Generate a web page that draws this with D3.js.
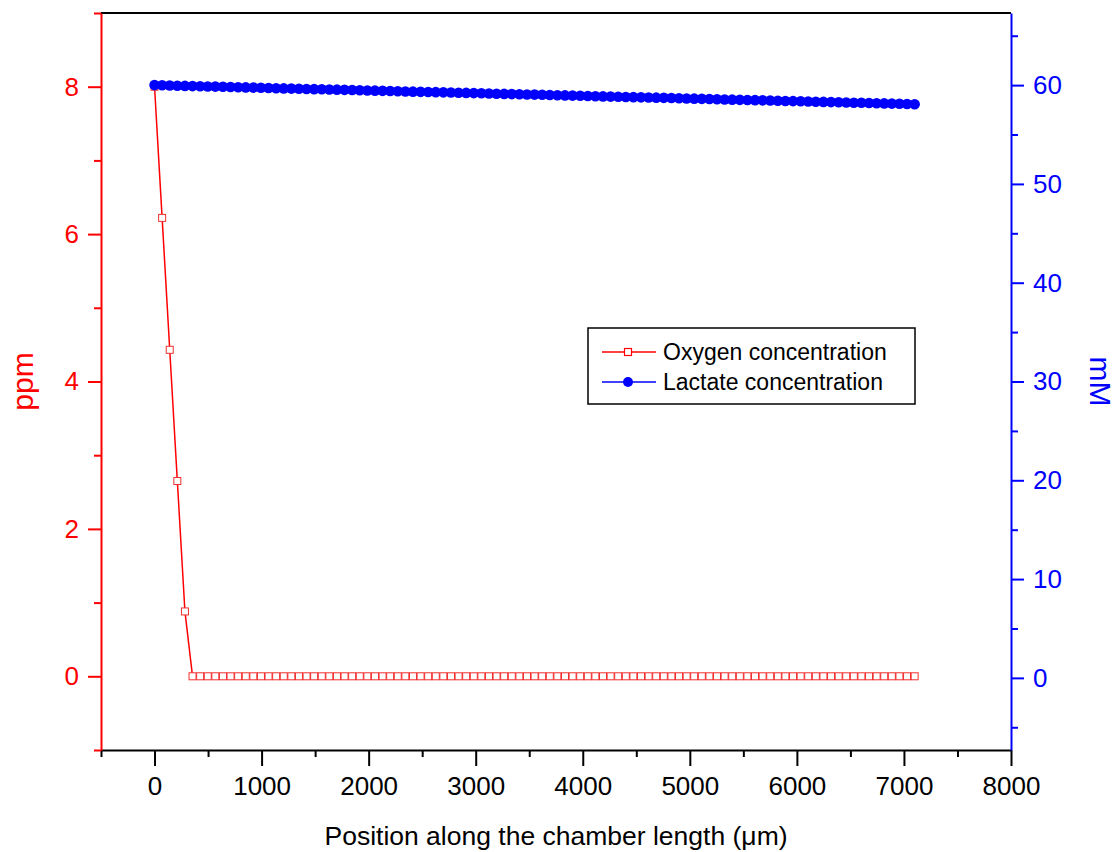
<!DOCTYPE html>
<html lang="en">
<head>
<meta charset="UTF-8">
<title>Oxygen and lactate along chamber</title>
<script src="https://d3js.org/d3.v7.min.js"></script>
<style>
    body { margin: 0; background: #fff; }
    svg { display: block; }
    text { font-family: "Liberation Sans", Arial, sans-serif; }
</style>
</head>
<body>
<script>
// position along the chamber (um)
const positions = [0,71,142,213,284,355,426,497,568,639,710,781,852,923,994,1065,1136,1207,1278,1349,
    1420,1491,1562,1633,1704,1775,1846,1917,1988,2059,2130,2201,2272,2343,2414,2485,2556,2627,2698,2769,
    2840,2911,2982,3053,3124,3195,3266,3337,3408,3479,3550,3621,3692,3763,3834,3905,3976,4047,4118,4189,
    4260,4331,4402,4473,4544,4615,4686,4757,4828,4899,4970,5041,5112,5183,5254,5325,5396,5467,5538,5609,
    5680,5751,5822,5893,5964,6035,6106,6177,6248,6319,6390,6461,6532,6603,6674,6745,6816,6887,6958,7029,7100]

// oxygen (ppm)
const oxygen = [8,6.22,4.43,2.65,0.88,0,0,0,0,0,0,0,0,0,0,0,0,0,0,0,
    0,0,0,0,0,0,0,0,0,0,0,0,0,0,0,0,0,0,0,0,
    0,0,0,0,0,0,0,0,0,0,0,0,0,0,0,0,0,0,0,0,
    0,0,0,0,0,0,0,0,0,0,0,0,0,0,0,0,0,0,0,0,
    0,0,0,0,0,0,0,0,0,0,0,0,0,0,0,0,0,0,0,0,0]

// lactate (mM)
const lactate = [60.00,59.98,59.96,59.94,59.92,59.90,59.88,59.86,59.85,59.83,59.81,59.79,59.77,59.75,59.73,59.71,59.69,59.67,59.65,59.63,
    59.61,59.59,59.58,59.56,59.54,59.52,59.50,59.48,59.46,59.44,59.42,59.40,59.38,59.36,59.34,59.32,59.31,59.29,59.27,59.25,
    59.23,59.21,59.19,59.17,59.15,59.13,59.11,59.09,59.07,59.05,59.04,59.02,59.00,58.98,58.96,58.94,58.92,58.90,58.88,58.86,
    58.84,58.82,58.80,58.78,58.76,58.75,58.73,58.71,58.69,58.67,58.65,58.63,58.61,58.59,58.57,58.55,58.53,58.51,58.49,58.48,
    58.46,58.44,58.42,58.40,58.38,58.36,58.34,58.32,58.30,58.28,58.26,58.24,58.22,58.21,58.19,58.17,58.15,58.13,58.11,58.09,58.07]

const xTicks = [0,1000,2000,3000,4000,5000,6000,7000,8000]
const xMinor = [-500,500,1500,2500,3500,4500,5500,6500,7500]
const ppmTicks = [0,2,4,6,8]
const ppmMinor = [-1,1,3,5,7,9]
const mMTicks = [0,10,20,30,40,50,60]
const mMMinor = [-5,5,15,25,35,45,55,65]

const width = 1117
const height = 852
const mLeft = 101, mRight = 1011, mTop = 13, mBottom = 750

const svg = d3.select('body').append('svg')
    .attr('width', width)
    .attr('height', height)

const x = d3.scaleLinear().domain([-500, 8000]).range([mLeft, mRight])
const yL = d3.scaleLinear().domain([-1, 9]).range([mBottom, mTop])
const yR = d3.scaleLinear().domain([-7.3, 67.3]).range([mBottom, mTop])

// frame top
svg.append('line')
    .attr('x1', mLeft).attr('x2', mRight).attr('y1', mTop).attr('y2', mTop)
    .attr('stroke', 'black').attr('stroke-width', 2)

// minor ticks drawn as axes without labels
function minorAxis(axis, vals, g, color) {
    g.call(axis.tickValues(vals).tickSize(7).tickFormat(''))
    g.select('.domain').remove()
    g.selectAll('line').attr('stroke', color).attr('stroke-width', 2)
}

// x axis
const gx = svg.append('g').attr('transform', `translate(0,${mBottom})`)
minorAxis(d3.axisBottom(x), xMinor, gx.append('g'), 'black')
const gxMain = gx.append('g')
    .call(d3.axisBottom(x).tickValues(xTicks).tickFormat(d3.format('d'))
        .tickSize(16).tickPadding(11).tickSizeOuter(0))
gxMain.select('.domain').attr('stroke', 'black').attr('stroke-width', 2)
gxMain.selectAll('line').attr('stroke-width', 2)
gxMain.selectAll('text').attr('font-size', 26).attr('fill', 'black')
    .attr('font-family', '"Liberation Sans", Arial, sans-serif')

// left axis (ppm)
const gl = svg.append('g').attr('transform', `translate(${mLeft},0)`)
minorAxis(d3.axisLeft(yL), ppmMinor, gl.append('g'), 'red')
const glMain = gl.append('g')
    .call(d3.axisLeft(yL).tickValues(ppmTicks).tickSize(13).tickPadding(9).tickSizeOuter(0))
glMain.select('.domain').attr('stroke', 'red').attr('stroke-width', 2)
glMain.selectAll('line').attr('stroke', 'red').attr('stroke-width', 2)
glMain.selectAll('text').attr('font-size', 26).attr('fill', 'red')
    .attr('font-family', '"Liberation Sans", Arial, sans-serif')

// right axis (mM)
const gr = svg.append('g').attr('transform', `translate(${mRight},0)`)
minorAxis(d3.axisRight(yR), mMMinor, gr.append('g'), 'blue')
const grMain = gr.append('g')
    .call(d3.axisRight(yR).tickValues(mMTicks).tickSize(13).tickPadding(9).tickSizeOuter(0))
grMain.select('.domain').attr('stroke', 'blue').attr('stroke-width', 2)
grMain.selectAll('line').attr('stroke', 'blue').attr('stroke-width', 2)
grMain.selectAll('text').attr('font-size', 26).attr('fill', 'blue')
    .attr('font-family', '"Liberation Sans", Arial, sans-serif')

// axis titles
svg.append('text')
    .attr('transform', `translate(${x(3750)},845)`)
    .attr('text-anchor', 'middle')
    .attr('font-size', 26.5)
    .text('Position along the chamber length (\u03bcm)')

svg.append('text')
    .attr('transform', `translate(33,${(mTop + mBottom) / 2}) rotate(-90)`)
    .attr('text-anchor', 'middle')
    .attr('font-size', 30)
    .attr('fill', 'red')
    .text('ppm')

svg.append('text')
    .attr('transform', `translate(1090,${(mTop + mBottom) / 2}) rotate(90)`)
    .attr('text-anchor', 'middle')
    .attr('font-size', 30)
    .attr('fill', 'blue')
    .text('mM')

const oxData = positions.map((p, i) => ({x: p, y: oxygen[i]}))
const laData = positions.map((p, i) => ({x: p, y: lactate[i]}))

// oxygen series
svg.append('path')
    .datum(oxData)
    .attr('fill', 'none')
    .attr('stroke', 'red')
    .attr('stroke-width', 1.5)
    .attr('d', d3.line().x(d => x(d.x)).y(d => yL(d.y)))

svg.append('g').selectAll('rect')
    .data(oxData)
    .join('rect')
    .attr('x', d => x(d.x) - 3.5)
    .attr('y', d => yL(d.y) - 3.5)
    .attr('width', 7)
    .attr('height', 7)
    .attr('fill', 'white')
    .attr('stroke', '#f03030')
    .attr('stroke-width', 1)

// lactate series
svg.append('path')
    .datum(laData)
    .attr('fill', 'none')
    .attr('stroke', 'blue')
    .attr('stroke-width', 1.5)
    .attr('d', d3.line().x(d => x(d.x)).y(d => yR(d.y)))

svg.append('g').selectAll('circle')
    .data(laData)
    .join('circle')
    .attr('cx', d => x(d.x))
    .attr('cy', d => yR(d.y))
    .attr('r', 5.3)
    .attr('fill', 'blue')

// legend
const lg = svg.append('g')
lg.append('rect')
    .attr('x', 588).attr('y', 328).attr('width', 327).attr('height', 76)
    .attr('fill', 'white').attr('stroke', 'black').attr('stroke-width', 1.5)

const legendItems = [
    {label: 'Oxygen concentration', color: 'red', marker: 'square', cy: 352},
    {label: 'Lactate concentration', color: 'blue', marker: 'circle', cy: 382}
]
legendItems.forEach(item => {
    lg.append('line').attr('x1', 602).attr('x2', 656).attr('y1', item.cy).attr('y2', item.cy)
        .attr('stroke', item.color).attr('stroke-width', 1.5)
    if (item.marker === 'square') {
        lg.append('rect').attr('x', 624.5).attr('y', item.cy - 3.5).attr('width', 7).attr('height', 7)
            .attr('fill', 'white').attr('stroke', 'red').attr('stroke-width', 1.2)
    } else {
        lg.append('circle').attr('cx', 628).attr('cy', item.cy).attr('r', 5).attr('fill', 'blue')
    }
    lg.append('text').attr('x', 663).attr('y', item.cy).attr('dy', '0.36em')
        .attr('font-size', 23).text(item.label)
})
</script>
</body>
</html>
